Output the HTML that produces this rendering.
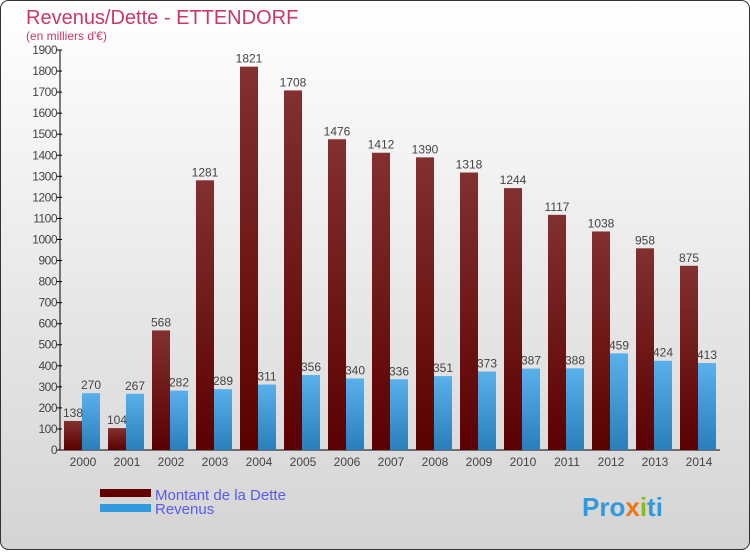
<!DOCTYPE html>
<html><head><meta charset="utf-8"><style>
body{margin:0;width:750px;height:550px;overflow:hidden;font-family:"Liberation Sans",sans-serif}
</style></head><body>
<svg width="750" height="550" xmlns="http://www.w3.org/2000/svg">
<defs>
<linearGradient id="bg" x1="0" y1="0" x2="0" y2="1"><stop offset="0" stop-color="#ffffff"/><stop offset="1" stop-color="#d4d4d4"/></linearGradient>
<linearGradient id="gd" x1="0" y1="0" x2="0" y2="1"><stop offset="0" stop-color="#833030"/><stop offset="1" stop-color="#5a0000"/></linearGradient>
<linearGradient id="gr" x1="0" y1="0" x2="0" y2="1"><stop offset="0" stop-color="#5ab0ea"/><stop offset="1" stop-color="#2a7fba"/></linearGradient>
</defs>
<rect x="0.5" y="0.5" width="749" height="549" rx="8" fill="url(#bg)" stroke="#333"/>
<text x="26" y="24" font-size="20" fill="#c8386a">Revenus/Dette - ETTENDORF</text>
<text x="26" y="40" font-size="12" fill="#c8386a">(en milliers d'€)</text>
<g id="axes"></g>
<g id="bars"></g>
<g>
<rect x="100" y="489" width="51" height="8" fill="#600000"/>
<text x="155" y="500" font-size="15" fill="#5a5aee">Montant de la Dette</text>
<rect x="100" y="504" width="51" height="8" fill="#3399dd"/>
<text x="155" y="514" font-size="15" fill="#5a5aee">Revenus</text>
</g>
<text x="582" y="516" font-size="26" font-weight="bold" fill="#3399dd">Pro<tspan fill="#ee7711">x</tspan><tspan fill="#88bb22">i</tspan>ti</text>
</svg>
<script>
const years=["2000","2001","2002","2003","2004","2005","2006","2007","2008","2009","2010","2011","2012","2013","2014"];
const dette=[138,104,568,1281,1821,1708,1476,1412,1390,1318,1244,1117,1038,958,875];
const revenus=[270,267,282,289,311,356,340,336,351,373,387,388,459,424,413];
const yTicks=[0,100,200,300,400,500,600,700,800,900,1000,1100,1200,1300,1400,1500,1600,1700,1800,1900];
const NS="http://www.w3.org/2000/svg";
const y0=450,yMax=1900,ph=400,x0=62,gw=44;
const ys=v=>y0-v/yMax*ph;
const xs=i=>x0+i*gw;
function mk(tag,attrs,parent,txt){const e=document.createElementNS(NS,tag);for(const k in attrs)e.setAttribute(k,attrs[k]);if(txt!=null)e.textContent=txt;parent.appendChild(e);return e;}
const ax=document.getElementById('axes'),bars=document.getElementById('bars');
let l=mk('line',{x1:60,y1:y0,x2:720,y2:y0,stroke:'#000'},ax);


l=mk('line',{x1:60,y1:50,x2:60,y2:y0,stroke:'#000'},ax);


yTicks.forEach(v=>{
 const t=mk('line',{x1:57,y1:ys(v),x2:62,y2:ys(v),stroke:'#000'},ax);
 
 
 const tx=mk('text',{x:57,y:ys(v)+4,'font-size':12,fill:'#444','text-anchor':'end','letter-spacing':'-0.5'},ax,v);
 
 
});
years.forEach((yr,i)=>{
 const gx=xs(i);
 const tx=mk('text',{x:gx+21,y:466,'font-size':12,fill:'#444','text-anchor':'middle'},ax,yr);
 
 
 const b1=mk('rect',{x:gx+2,y:ys(dette[i]),width:18,height:y0-ys(dette[i]),fill:'url(#gd)'},bars);
 
 
 const b2=mk('rect',{x:gx+20,y:ys(revenus[i]),width:18,height:y0-ys(revenus[i]),fill:'url(#gr)'},bars);
 
 
 const v1=mk('text',{x:gx+11,y:ys(dette[i])-4,'font-size':12,fill:'#444','text-anchor':'middle'},bars,dette[i]);
 
 
 const v2=mk('text',{x:gx+29,y:ys(revenus[i])-4,'font-size':12,fill:'#444','text-anchor':'middle'},bars,revenus[i]);
 
 
});
</script>
</body></html>
